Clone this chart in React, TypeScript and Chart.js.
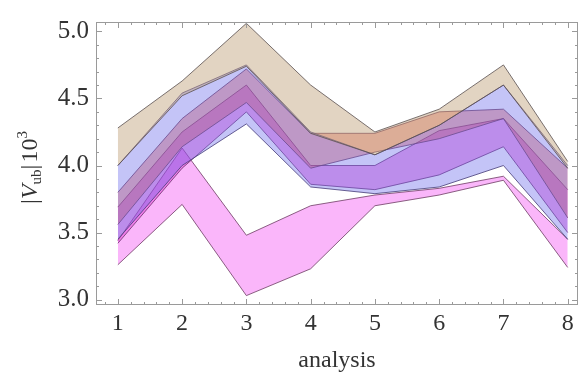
import React, { useEffect, useRef } from 'react';
import { Chart, registerables } from 'chart.js';
Chart.register(...registerables);

const analyses = [1, 2, 3, 4, 5, 6, 7, 8];
const xTicks = [1, 2, 3, 4, 5, 6, 7, 8];
const yTicks = [3.0, 3.5, 4.0, 4.5, 5.0];

const tanHigh = [4.28, 4.63, 5.06, 4.6, 4.25, 4.42, 4.75, 4.03];
const tanLow = [4.0, 4.52, 4.74, 4.24, 4.08, 4.3, 4.6, 3.98];
const blueHigh = [4.0, 4.54, 4.75, 4.25, 4.08, 4.3, 4.6, 4.0];
const blueLow = [3.45, 4.0, 4.31, 3.84, 3.79, 3.84, 4.0, 3.45];
const redHigh = [3.8, 4.35, 4.72, 4.24, 4.24, 4.4, 4.42, 3.98];
const redLow = [3.56, 4.14, 4.47, 3.98, 4.1, 4.2, 4.35, 3.61];
const magentaHigh = [3.69, 4.25, 4.6, 4.0, 4.0, 4.26, 4.35, 3.82];
const magentaLow = [3.42, 3.98, 4.4, 3.86, 3.82, 3.93, 4.14, 3.5];
const pinkHigh = [3.44, 4.13, 3.48, 3.7, 3.78, 3.83, 3.92, 3.45];
const pinkLow = [3.26, 3.71, 3.03, 3.23, 3.7, 3.78, 3.89, 3.24];

const bands = [
  { hi: tanHigh, lo: tanLow, fill: 'rgba(190,160,120,0.45)', line: 'rgba(90,80,80,0.8)' },
  { hi: blueHigh, lo: blueLow, fill: 'rgba(100,100,235,0.38)', line: 'rgba(70,60,120,0.8)' },
  { hi: redHigh, lo: redLow, fill: 'rgba(230,80,60,0.4)', line: 'rgba(110,60,90,0.8)' },
  { hi: magentaHigh, lo: magentaLow, fill: 'rgba(225,45,210,0.42)', line: 'rgba(110,50,110,0.8)' },
  { hi: pinkHigh, lo: pinkLow, fill: 'rgba(245,110,245,0.5)', line: 'rgba(110,60,100,0.8)' },
];

const serif = '"Liberation Serif", "DejaVu Serif", serif';

const framePlugin = {
  id: 'frame',
  afterDatasetsDraw(chart: any) {
    const { ctx, chartArea: a, scales } = chart;
    const xs = scales.x;
    const ys = scales.y;
    ctx.save();
    ctx.strokeStyle = '#9a9a9a';
    ctx.lineWidth = 1;
    ctx.strokeRect(a.left + 0.5, a.top + 0.5, a.right - a.left - 1, a.bottom - a.top - 1);
    ctx.beginPath();
    for (let v = 0.8; v <= 8.15; v += 0.2) {
      const r = Math.round(v * 10) / 10;
      const major = Math.abs(r - Math.round(r)) < 1e-6;
      const len = major ? 6 : 3;
      const px = Math.round(xs.getPixelForValue(r)) + 0.5;
      ctx.moveTo(px, a.bottom);
      ctx.lineTo(px, a.bottom - len);
      ctx.moveTo(px, a.top);
      ctx.lineTo(px, a.top + len);
    }
    for (let v = 3.0; v <= 5.05; v += 0.1) {
      const r = Math.round(v * 10) / 10;
      const major = Math.abs(r * 2 - Math.round(r * 2)) < 1e-6;
      const len = major ? 6 : 3;
      const py = Math.round(ys.getPixelForValue(r)) + 0.5;
      ctx.moveTo(a.left, py);
      ctx.lineTo(a.left + len, py);
      ctx.moveTo(a.right, py);
      ctx.lineTo(a.right - len, py);
    }
    ctx.stroke();

    // y-axis title |V_ub| 10^3
    const big = 24;
    const small = 15;
    const parts = [
      { t: '|', f: `${big}px ${serif}`, dy: 0 },
      { t: 'V', f: `italic ${big}px ${serif}`, dy: 0 },
      { t: 'ub', f: `${small}px ${serif}`, dy: 4 },
      { t: '|\u200A10', f: `${big}px ${serif}`, dy: 0 },
      { t: '3', f: `${small}px ${serif}`, dy: -10 },
    ];
    let total = 0;
    const widths = parts.map((p) => {
      ctx.font = p.f;
      const w = ctx.measureText(p.t).width;
      total += w;
      return w;
    });
    ctx.translate(37, (a.top + a.bottom) / 2 + 4);
    ctx.rotate(-Math.PI / 2);
    ctx.fillStyle = '#333';
    ctx.textBaseline = 'alphabetic';
    let x = -total / 2;
    parts.forEach((p, i) => {
      ctx.font = p.f;
      ctx.fillText(p.t, x, p.dy);
      x += widths[i];
    });
    ctx.restore();
  },
};

export default function App() {
  const ref = useRef<HTMLCanvasElement>(null);
  useEffect(() => {
    if (!ref.current) return;
    const datasets: any[] = [];
    bands.forEach((b) => {
      datasets.push({
        data: analyses.map((a, i) => ({ x: a, y: b.hi[i] })),
        borderColor: b.line,
        borderWidth: 1,
        pointRadius: 0,
        fill: false,
        tension: 0,
      });
      datasets.push({
        data: analyses.map((a, i) => ({ x: a, y: b.lo[i] })),
        borderColor: b.line,
        borderWidth: 1,
        pointRadius: 0,
        backgroundColor: b.fill,
        fill: '-1',
        tension: 0,
      });
    });
    const chart = new Chart(ref.current, {
      type: 'line',
      data: { datasets },
      plugins: [framePlugin],
      options: {
        animation: false,
        responsive: false,
        layout: { padding: { top: 5, right: 5, left: 0, bottom: 0 } },
        plugins: { legend: { display: false }, tooltip: { enabled: false } },
        scales: {
          x: {
            type: 'linear',
            min: 0.66,
            max: 8.16,
            afterBuildTicks: (s: any) => {
              s.ticks = xTicks.map((v) => ({ value: v }));
            },
            afterFit: (s: any) => {
              s.height = 78;
            },
            grid: { display: false, drawTicks: false },
            border: { display: false },
            ticks: {
              color: '#333',
              font: { family: serif, size: 24 },
              padding: 4,
              maxRotation: 0,
              autoSkip: false,
            },
            title: {
              display: true,
              text: 'analysis',
              color: '#333',
              font: { family: serif, size: 24 },
              padding: { top: 0, bottom: 8 },
            },
          },
          y: {
            type: 'linear',
            min: 2.96,
            max: 5.07,
            afterBuildTicks: (s: any) => {
              s.ticks = yTicks.map((v) => ({ value: v }));
            },
            afterFit: (s: any) => {
              s.width = 96;
            },
            grid: { display: false, drawTicks: false },
            border: { display: false },
            ticks: {
              color: '#333',
              font: { family: serif, size: 25 },
              padding: 7,
              callback: (v: any) => Number(v).toFixed(1),
            },
          },
        },
      },
    });
    return () => chart.destroy();
  }, []);
  return (
    <div style={{ position: 'fixed', left: 0, top: 0, width: 583, height: 383, background: '#fff' }}>
      <canvas ref={ref} width={583} height={383} style={{ width: 583, height: 383 }} />
    </div>
  );
}
